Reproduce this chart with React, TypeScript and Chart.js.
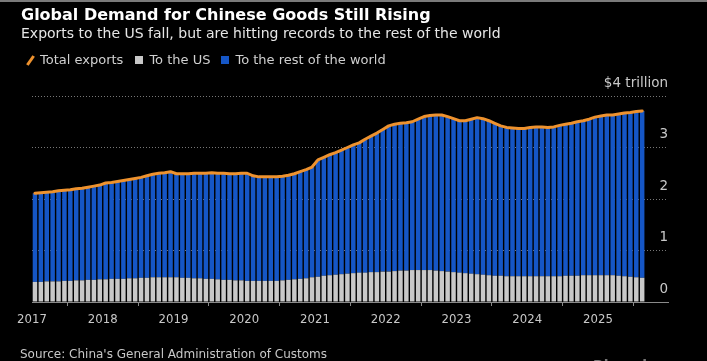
import React, { useEffect, useRef } from 'react';
import { Chart, registerables } from 'chart.js';

Chart.register(...registerables);

const START_YEAR = 2017;

// 12-month rolling exports, $ trillion (Jan 2017 – Aug 2025)
const totalExports = [
  2.11, 2.12, 2.13, 2.14, 2.16, 2.17, 2.18, 2.20, 2.21, 2.23, 2.25, 2.27,
  2.31, 2.32, 2.34, 2.36, 2.38, 2.40, 2.42, 2.45, 2.48, 2.50, 2.51, 2.53,
  2.49, 2.49, 2.49, 2.50, 2.50, 2.50, 2.51, 2.50, 2.50, 2.49, 2.49, 2.50,
  2.50, 2.45, 2.43, 2.43, 2.43, 2.43, 2.44, 2.46, 2.49, 2.53, 2.57, 2.62,
  2.76, 2.81, 2.86, 2.90, 2.95, 3.00, 3.05, 3.09, 3.16, 3.22, 3.28, 3.35,
  3.42, 3.45, 3.47, 3.48, 3.50, 3.55, 3.60, 3.62, 3.63, 3.63, 3.60, 3.56,
  3.52, 3.52, 3.55, 3.58, 3.56, 3.52, 3.47, 3.42, 3.39, 3.38, 3.37, 3.37,
  3.39, 3.40, 3.40, 3.39, 3.40, 3.43, 3.45, 3.47, 3.50, 3.52, 3.55, 3.59,
  3.61, 3.63, 3.63, 3.65, 3.67, 3.68, 3.70, 3.71,
];

const toUS = [
  0.39, 0.39, 0.40, 0.40, 0.40, 0.41, 0.41, 0.42, 0.42, 0.43, 0.43, 0.44,
  0.44, 0.45, 0.45, 0.45, 0.46, 0.46, 0.47, 0.47, 0.48, 0.48, 0.48, 0.48,
  0.48, 0.47, 0.47, 0.46, 0.46, 0.45, 0.45, 0.44, 0.43, 0.43, 0.42, 0.42,
  0.41, 0.41, 0.41, 0.41, 0.41, 0.41, 0.42, 0.43, 0.44, 0.45, 0.46, 0.48,
  0.49, 0.51, 0.52, 0.53, 0.54, 0.55, 0.56, 0.57, 0.57, 0.58, 0.58, 0.59,
  0.59, 0.60, 0.61, 0.61, 0.62, 0.62, 0.62, 0.62, 0.61, 0.60, 0.59, 0.58,
  0.57, 0.56, 0.55, 0.54, 0.53, 0.52, 0.51, 0.51, 0.50, 0.50, 0.50, 0.50,
  0.50, 0.50, 0.50, 0.50, 0.50, 0.50, 0.51, 0.51, 0.51, 0.52, 0.52, 0.52,
  0.52, 0.52, 0.52, 0.51, 0.50, 0.49, 0.48, 0.47,
];

const yTickTop = '$4 trillion';

const ORANGE = '#EE922E';
const GRAY = '#C8C8C8';
const BLUE = '#1556C6';
const FONT = '"DejaVu Sans", sans-serif';
const FONT_COND = '"DejaVu Sans Condensed", "DejaVu Sans", sans-serif';

export default function App() {
  const ref = useRef<HTMLCanvasElement>(null);

  useEffect(() => {
    document.body.style.margin = '0';
    document.body.style.background = '#000';
    const xs = totalExports.map((_, i) => START_YEAR + (i + 0.5) / 12);
    const rest = totalExports.map((t, i) => +(t - toUS[i]).toFixed(3));

    const chart = new Chart(ref.current as HTMLCanvasElement, {
      type: 'bar',
      data: {
        datasets: [
          {
            type: 'line',
            label: 'Total exports',
            data: xs.map((x, i) => ({ x, y: totalExports[i] })),
            borderColor: ORANGE,
            borderWidth: 3,
            pointRadius: 0,
            tension: 0,
            stack: 'line',
            order: 0,
            borderCapStyle: 'round',
            borderJoinStyle: 'round',
          } as any,
          {
            type: 'bar',
            label: 'To the US',
            data: xs.map((x, i) => ({ x, y: toUS[i] })),
            backgroundColor: GRAY,
            stack: 'bars',
            order: 1,
            barPercentage: 0.76,
            categoryPercentage: 1,
            borderWidth: 0,
          },
          {
            type: 'bar',
            label: 'To the rest of the world',
            data: xs.map((x, i) => ({ x, y: rest[i] })),
            backgroundColor: BLUE,
            stack: 'bars',
            order: 1,
            barPercentage: 0.76,
            categoryPercentage: 1,
            borderWidth: 0,
          },
        ],
      },
      options: {
        animation: false,
        responsive: false,
        maintainAspectRatio: false,
        layout: { padding: { left: 32, right: 39, top: 96, bottom: 29 } },
        plugins: { legend: { display: false }, tooltip: { enabled: false } },
        scales: {
          x: {
            type: 'linear',
            min: START_YEAR,
            max: 2025.99,
            offset: false,
            afterFit: (s: any) => { s.height = 30; },
            border: { display: true, color: '#8a8a8a', width: 1 },
            grid: { display: true, drawOnChartArea: false, drawTicks: true, tickLength: 4, color: '#8a8a8a' },
            ticks: {
              stepSize: 1,
              includeBounds: false,
              autoSkip: false,
              maxRotation: 0,
              color: '#c8c8c8',
              padding: 6,
              font: { family: FONT_COND, size: 13 },
              callback: (v: any) => String(v),
            },
          },
          y: {
            position: 'right',
            stacked: true,
            min: 0,
            max: 4,
            afterFit: (s: any) => { s.width = 0; },
            border: { display: false, dash: [1, 2] },
            grid: { color: '#777', lineWidth: 1, drawTicks: false },
            ticks: {
              stepSize: 1,
              mirror: true,
              padding: 0,
              labelOffset: -13,
              color: '#c8c8c8',
              font: { family: FONT, size: 13.5 },
              callback: (v: any) => (v === 4 ? yTickTop : String(v)),
            },
          },
        },
      },
    });
    return () => chart.destroy();
  }, []);

  const txt: React.CSSProperties = { position: 'absolute', whiteSpace: 'nowrap', fontFamily: FONT };

  return (
    <div style={{ position: 'relative', width: 707, height: 361, background: '#000', overflow: 'hidden' }}>
      <div style={{ position: 'absolute', left: 0, top: 0, width: 707, height: 2, background: '#7a7a7a' }} />
      <canvas ref={ref} width={707} height={361} style={{ position: 'absolute', left: 0, top: 0, width: 707, height: 361 }} />
      <div style={{ ...txt, left: 21, top: 6, fontSize: 16, lineHeight: '18px', fontWeight: 'bold', color: '#fff' }}>
        Global Demand for Chinese Goods Still Rising
      </div>
      <div style={{ ...txt, left: 21, top: 25, fontSize: 14, lineHeight: '16px', color: '#e6e6e6' }}>
        Exports to the US fall, but are hitting records to the rest of the world
      </div>
      <div style={{ ...txt, left: 21, top: 52, fontSize: 13, lineHeight: '16px', color: '#d0d0d0', display: 'flex', alignItems: 'center' }}>
        <span style={{ display: 'inline-block', width: 3, height: 11, background: ORANGE, transform: 'rotate(35deg)', marginLeft: 8, marginRight: 8 }} />
        <span>Total exports</span>
        <span style={{ display: 'inline-block', width: 8, height: 8, background: GRAY, marginLeft: 12, marginRight: 6 }} />
        <span>To the US</span>
        <span style={{ display: 'inline-block', width: 8, height: 8, background: BLUE, marginLeft: 11, marginRight: 6 }} />
        <span>To the rest of the world</span>
      </div>
      <div style={{ ...txt, left: 20, top: 346, fontSize: 12, lineHeight: '16px', color: '#c8c8c8' }}>
        Source: China's General Administration of Customs
      </div>
      <div style={{ ...txt, left: 593, top: 357, fontSize: 14, lineHeight: '16px', fontWeight: 'bold', color: '#777' }}>
        Bloomberg
      </div>
    </div>
  );
}
